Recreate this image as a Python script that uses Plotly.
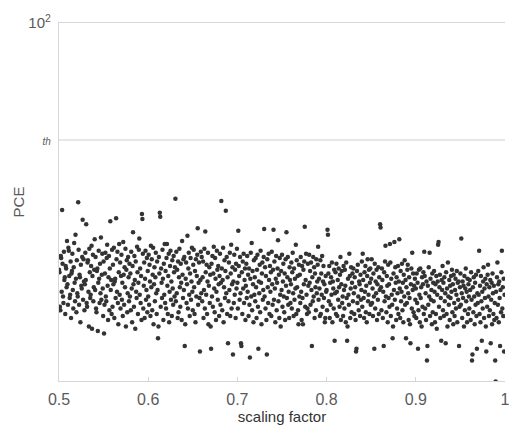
import plotly.graph_objects as go

# Sample grid along the scaling factor axis
X_START = 0.5
X_STEP = 0.0005

# PCE values (log-scale y axis)
pce = [
    7.9,7.7,5.4,5.2,9.1,8.9,6.3,14.6,8.4,6.0,5.6,9.5,7.1,7.3,5.0,8.2,8.0,6.6,10.6,6.8,
    5.5,9.9,9.6,7.4,5.9,6.1,8.6,4.8,7.6,7.8,9.3,6.4,5.3,8.1,10.4,6.9,5.7,11.3,7.2,5.1,
    8.7,6.2,6.0,15.8,9.7,5.5,7.5,7.3,4.6,8.3,6.7,6.5,9.0,13.2,5.8,8.8,7.0,5.2,6.8,9.4,
    7.1,12.6,5.6,5.4,8.5,8.7,6.3,4.4,9.8,7.7,5.9,6.1,8.2,10.1,4.3,7.4,9.2,5.7,6.6,7.9,
    10.8,6.4,9.0,5.3,5.1,7.8,8.0,4.2,6.9,9.6,7.2,5.6,8.4,6.2,11.0,5.8,7.5,9.3,6.5,4.9,
    8.6,4.1,5.5,7.6,9.4,6.0,5.7,8.9,10.2,6.7,4.7,7.3,9.1,5.2,8.0,13.0,6.4,7.1,5.0,9.7,
    5.4,8.3,6.8,9.9,4.8,7.0,7.2,5.9,13.4,8.8,6.3,9.5,5.6,4.5,7.7,10.3,6.1,8.5,5.3,7.4,
    9.2,5.8,6.9,4.9,10.5,7.5,5.5,8.1,6.6,9.8,4.4,7.9,8.7,5.1,6.2,9.0,7.3,5.7,8.4,6.0,
    7.6,5.2,9.5,6.5,4.6,8.2,11.6,6.8,5.4,9.1,7.1,4.3,8.6,6.3,5.9,10.0,7.7,5.0,6.9,9.7,
    10.9,6.1,8.0,5.6,7.4,4.7,14.0,13.3,9.3,5.3,6.7,8.5,4.8,7.2,9.6,5.8,6.4,8.9,5.1,7.8,
    6.0,9.2,5.5,8.3,7.0,4.9,10.1,6.6,8.8,5.2,7.5,9.9,4.5,6.8,8.1,5.7,7.3,9.4,6.2,5.0,
    8.6,6.4,3.9,4.4,9.0,7.6,14.2,13.6,5.4,8.0,6.9,5.9,9.7,7.2,4.7,8.4,6.1,10.3,5.6,7.8,
    5.3,8.9,10.3,6.7,5.0,7.4,9.3,4.6,6.3,8.2,9.6,5.8,7.0,4.9,8.7,6.5,5.5,9.1,7.7,6.0,
    8.1,16.4,5.7,9.5,6.2,7.9,4.8,8.6,5.1,7.3,9.8,6.6,5.4,8.4,6.9,4.7,10.6,7.5,5.9,8.8,
    6.4,9.0,3.6,4.5,7.2,8.5,5.6,6.8,11.2,5.3,8.0,9.4,6.1,4.9,7.6,8.9,5.8,7.0,9.9,6.3,
    5.2,8.3,9.7,6.6,5.0,7.8,4.6,8.8,6.0,7.4,9.2,12.1,5.5,6.9,8.5,5.9,3.4,7.1,9.5,6.2,
    9.0,5.7,7.3,8.6,4.8,6.4,9.8,5.3,11.7,7.7,6.1,8.3,5.0,7.0,9.4,4.5,6.7,8.1,5.6,7.5,
    4.4,3.5,8.4,6.0,9.1,5.4,7.6,10.0,6.5,5.1,8.9,7.2,4.7,6.3,9.6,7.9,5.8,8.2,6.8,4.9,
    7.4,9.3,5.5,6.9,16.0,8.0,5.2,7.1,9.9,4.6,6.6,8.7,5.9,7.8,14.5,6.2,9.0,5.0,7.3,3.7,
    5.7,8.5,6.4,9.4,4.9,7.6,10.2,5.3,6.8,8.1,3.3,7.0,5.6,9.2,6.1,7.9,4.8,8.4,6.5,9.8,
    6.9,5.3,11.8,8.2,7.4,5.8,9.0,6.2,3.7,3.6,7.7,5.0,8.6,6.5,9.3,5.6,7.1,8.0,4.7,6.7,
    8.4,5.9,9.1,6.3,7.5,4.9,8.0,5.5,3.2,7.2,9.4,6.0,10.4,5.2,7.8,6.8,4.6,8.7,6.1,7.3,
    5.7,8.9,6.6,4.8,7.9,9.2,5.4,3.5,7.0,6.2,8.3,5.1,9.6,6.9,4.5,7.6,8.5,5.8,6.4,9.0,
    12.0,6.0,8.1,5.3,7.4,4.7,3.3,8.8,6.6,5.6,9.3,7.1,5.0,8.2,6.3,7.7,4.9,9.5,6.8,5.5,
    7.9,11.9,5.8,8.6,6.5,4.6,7.2,9.1,5.2,6.9,8.0,10.7,5.7,7.5,4.8,8.9,6.1,4.4,7.8,6.4,
    9.2,5.4,7.0,8.4,6.0,5.1,7.6,4.7,8.8,6.7,11.6,5.9,7.3,9.0,5.5,6.3,4.8,8.1,7.1,5.6,
    6.8,8.5,5.3,7.7,9.4,6.2,4.9,8.0,5.8,7.2,6.5,10.2,5.0,8.7,6.6,7.4,5.2,4.5,8.3,6.0,
    7.5,5.6,9.0,6.3,4.7,8.2,5.9,4.5,7.9,6.8,8.6,12.3,5.4,7.1,9.3,6.1,5.0,5.3,8.4,6.7,
    5.1,9.2,6.9,7.8,5.5,8.5,6.4,3.6,7.3,5.7,9.0,6.0,8.1,4.8,7.6,6.6,5.2,8.8,6.2,7.0,
    8.3,10.0,5.8,7.2,6.5,4.9,8.7,5.0,7.6,6.1,9.1,5.4,7.0,8.2,5.9,6.8,4.6,4.8,7.4,6.3,
    6.4,5.2,11.9,11.3,7.6,5.7,8.2,4.8,6.9,5.5,7.3,6.1,8.5,4.6,7.0,6.5,5.3,7.9,3.8,6.2,
    7.7,5.0,8.4,6.3,4.9,7.1,5.8,8.0,6.6,5.4,7.5,9.0,4.7,6.8,7.8,5.6,6.0,4.9,8.2,6.4,
    5.3,7.9,6.7,4.6,8.5,5.9,3.8,4.4,7.2,6.1,5.5,9.3,7.4,4.8,6.5,8.1,5.1,6.9,7.6,5.7,
    8.0,6.2,5.0,7.3,6.6,4.7,3.4,3.5,7.8,5.6,8.3,6.0,5.2,7.0,6.8,4.9,7.5,5.8,6.4,8.6,
    5.4,9.3,7.1,5.9,4.8,7.7,6.3,8.2,5.1,6.7,4.6,7.4,8.8,5.7,6.1,7.9,5.0,6.9,8.0,5.5,
    7.2,8.8,5.6,6.5,4.9,7.6,6.0,3.5,8.4,5.3,7.0,6.2,7.9,4.7,6.8,5.8,8.1,5.0,7.3,6.4,
    12.6,12.2,6.6,5.2,8.0,7.1,4.8,6.3,3.6,7.7,5.7,8.6,10.1,6.0,5.1,7.4,6.7,4.6,8.3,5.9,
    6.8,5.4,10.3,8.5,4.9,7.2,6.1,5.5,3.9,4.4,7.6,6.4,10.5,5.8,8.1,6.9,4.7,7.3,5.3,6.2,
    8.2,5.0,7.0,10.8,6.5,4.8,7.8,5.7,6.3,8.4,5.2,6.9,4.6,7.5,6.0,8.7,5.5,7.1,3.9,6.6,
    5.6,7.9,8.3,6.2,4.7,7.3,5.9,4.5,3.7,6.8,8.0,5.3,9.4,6.4,7.6,5.1,6.7,4.9,7.2,5.8,
    6.5,4.8,7.6,5.6,6.9,3.5,5.2,7.9,6.1,4.6,8.0,5.9,6.6,4.4,7.3,5.4,6.8,7.7,5.0,9.5,
    7.4,5.3,6.2,4.7,7.0,3.1,3.6,6.7,5.5,8.1,6.0,9.4,4.9,7.2,5.8,6.4,4.5,7.6,5.1,6.9,
    5.7,7.8,6.3,4.6,6.8,5.0,7.4,4.3,6.1,7.0,10.2,10.5,5.4,6.6,7.5,4.8,5.9,3.8,7.1,6.4,
    8.2,5.2,6.9,4.9,7.3,5.7,6.2,3.7,7.7,5.0,6.5,4.4,8.5,6.0,5.5,7.1,4.7,6.7,5.9,7.4,
    6.3,7.9,5.1,6.8,4.5,7.5,5.6,4.9,6.4,7.2,5.3,6.1,7.8,4.6,6.9,5.8,7.0,3.6,5.4,6.6,
    7.6,5.5,10.9,6.2,4.8,7.0,5.9,6.7,4.4,7.4,5.2,6.5,8.0,5.7,6.3,4.6,7.2,5.0,6.8,6.0,
    5.3,7.1,6.4,4.7,7.7,5.8,3.1,3.3,6.6,5.1,7.3,6.0,4.5,6.9,5.5,7.5,4.9,3.5,6.2,5.6,
    7.8,6.1,9.6,5.0,6.7,4.6,7.4,5.7,3.8,6.3,5.3,7.0,8.1,4.8,6.5,5.9,7.2,4.4,3.4,6.8,
    5.4,7.5,8.3,6.0,4.9,6.6,5.2,7.1,3.7,5.8,6.9,4.5,7.6,6.2,5.0,6.7,4.7,5.6,3.1,2.5,
    6.3,4.8,7.3,8.5,5.5,6.8,4.6,7.0,5.9,3.6,6.4,5.1,7.7,9.6,5.3,6.6,4.9,7.2,3.4,6.1,
]
scaling = [X_START + i * X_STEP for i in range(len(pce))]

threshold = 30
x_ticks = [0.5, 0.6, 0.7, 0.8, 0.9, 1.0]
x_tick_labels = ["0.5", "0.6", "0.7", "0.8", "0.9", "1"]
y_ticks = [threshold, 100]
y_tick_labels = ["<span style='font-size:10px'><i>th</i></span>", "10<sup>2</sup>"]

AX = "#d3d7db"
TXT = "#5a5a5a"
FONT = "Liberation Sans, Arial, sans-serif"

fig = go.Figure()
fig.add_trace(go.Scatter(
    x=scaling, y=pce, mode="markers",
    marker=dict(size=4.5, color="#333333", line=dict(width=0)),
    hoverinfo="skip", showlegend=False,
))
fig.add_shape(type="line", xref="paper", x0=0, x1=1, yref="y", y0=threshold, y1=threshold,
              line=dict(color="#cfcfcf", width=1.2))

fig.update_layout(
    width=512, height=431,
    margin=dict(l=59, r=2, t=23, b=50),
    paper_bgcolor="white", plot_bgcolor="white",
    font=dict(family=FONT, color=TXT),
    xaxis=dict(
        range=[0.5, 1.0], tickvals=x_ticks, ticktext=x_tick_labels,
        showgrid=False, zeroline=False,
        showline=True, linecolor=AX, linewidth=1.2, mirror=True,
        ticks="inside", ticklen=4, tickcolor=AX,
        ticklabeloverflow="allow", ticklabelstandoff=4,
        tickfont=dict(size=16, color=TXT),
        title=dict(text="scaling factor", font=dict(size=15, color="#333333"), standoff=4),
    ),
    yaxis=dict(
        type="log", range=[0.4, 2.0],
        tickvals=y_ticks, ticktext=y_tick_labels,
        showgrid=False, zeroline=False,
        showline=True, linecolor=AX, linewidth=1.2,
        ticks="", ticklabelstandoff=4, tickfont=dict(size=15, color=TXT),
        title=dict(text="PCE", font=dict(size=15, color=TXT), standoff=0),
    ),
)

fig.write_html("out.html")
